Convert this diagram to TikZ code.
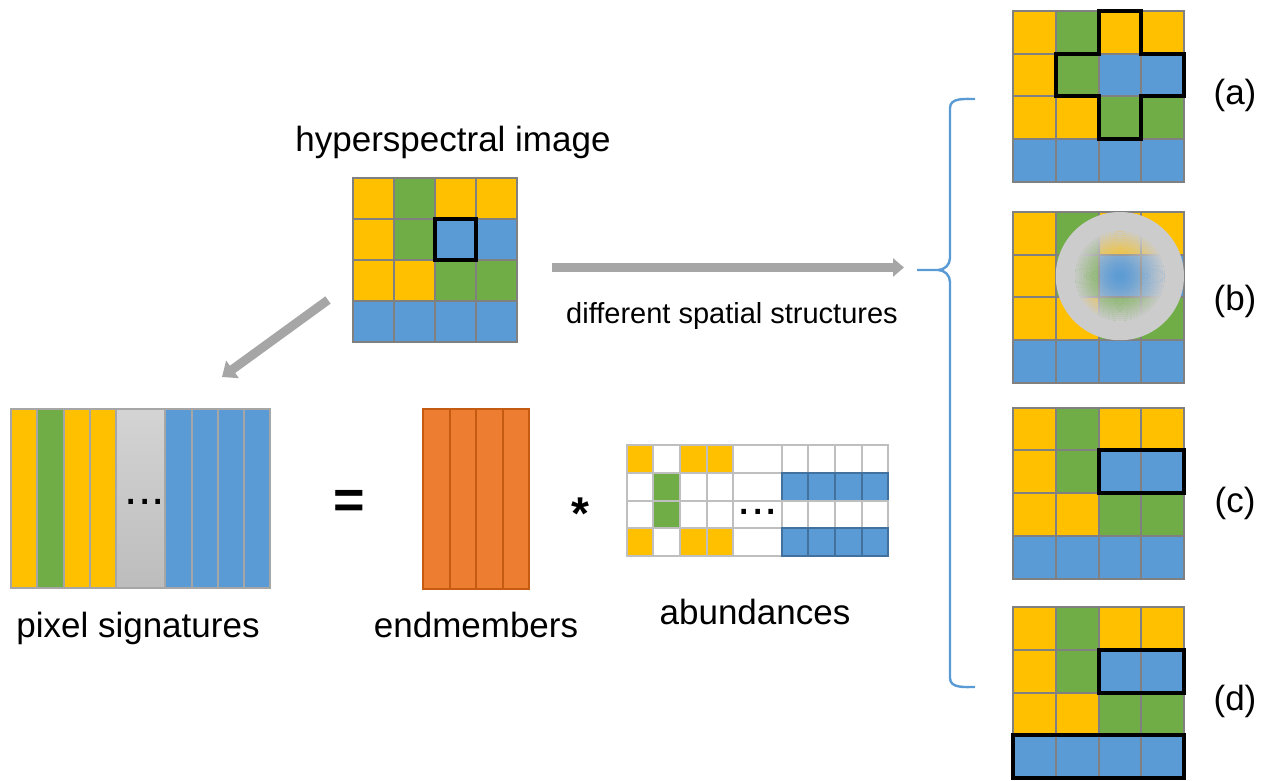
\documentclass[tikz,border=0pt]{standalone}
\usepackage{fontspec}
\setmainfont{Liberation Sans}
\usepackage{tikz}
\usetikzlibrary{arrows.meta}
\definecolor{hy}{HTML}{FFC000}
\definecolor{hg}{HTML}{70AD47}
\definecolor{hb}{HTML}{5B9BD5}
\definecolor{hbdark}{HTML}{41719C}
\definecolor{ho}{HTML}{ED7D31}
\definecolor{hodark}{HTML}{C55A11}

\newcommand{\pixgrid}{%
  \foreach \c [count=\i from 0] in {hy,hg,hy,hy,hy,hg,hb,hb,hy,hy,hg,hg,hb,hb,hb,hb}{%
    \pgfmathtruncatemacro\cx{mod(\i,4)}%
    \pgfmathtruncatemacro\cy{int(\i/4)}%
    \filldraw[fill=\c, draw=gray, line width=1pt] (\cx,\cy) rectangle +(1,1);
  }}

\begin{document}
\begin{tikzpicture}[x=0.5pt, y=-0.5pt,
  lbl/.style={font=\fontsize{17.5}{21}\selectfont, inner sep=0pt},
  small lbl/.style={font=\fontsize{14.5}{18}\selectfont, inner sep=0pt},
  thick box/.style={draw=black, line width=2pt},
  sigstripe/.style={draw=gray!70, line width=1pt},
  ayel/.style={fill=hy, draw=gray!50, line width=1pt},
  agrn/.style={fill=hg, draw=gray!50, line width=1pt},
  awht/.style={fill=white, draw=gray!50, line width=1pt},
  ablu/.style={fill=hb, draw=hbdark, line width=1pt},
  garrow/.style={-{Triangle[length=5.5pt,width=9pt]}, line width=4.5pt, draw=gray!70},
  brace line/.style={draw=hb, line width=1.2pt}]
\useasboundingbox (0,0) rectangle (1266,781);

\node[lbl, anchor=base] (hsiLabel) at (453,152) {hyperspectral image};
\begin{scope}[shift={(353,178)}, scale=41]
  \pixgrid
  \draw[thick box] (2,1) rectangle (3,2);
\end{scope}

\coordinate (hsiOut) at (552,267.5);
\coordinate (braceIn) at (904,267.5);
\draw[garrow] (hsiOut) -- (braceIn);
\node[small lbl, anchor=base] (spatLabel) at (732,323) {different spatial structures};

\coordinate (hsiDown) at (328,300);
\coordinate (sigUp) at (222,377);
\draw[garrow, -{Triangle[length=6.5pt,width=10.5pt]}] (hsiDown) -- (sigUp);

\foreach \c [count=\k from 0] in {hy,hg,hy,hy}
  \filldraw[sigstripe, fill=\c] ({11+26.3*\k},409) rectangle +(26.3,179);
\shadedraw[top color=gray!34, bottom color=gray!52, draw=gray!70, line width=1pt] (116.2,409) rectangle (165.2,588);
\foreach \k in {0,...,3}
  \filldraw[sigstripe, fill=hb] ({165.2+26.3*\k},409) rectangle +(26.3,179);
\node[font=\fontsize{24}{28}\selectfont, anchor=base, inner sep=0pt] (sigDots) at (145,504) {...};
\node[lbl, anchor=base] (sigLabel) at (138,637) {pixel signatures};

\node[font=\bfseries\fontsize{27}{30}\selectfont, anchor=base, inner sep=0pt] (eqSign) at (349,518) {=};

\foreach \k in {0,...,3}
  \filldraw[fill=ho, draw=hodark, line width=1pt] ({423+26.5*\k},409) rectangle +(26.5,180);
\node[lbl, anchor=base] (endLabel) at (476,637) {endmembers};

\node[font=\bfseries\fontsize{23}{28}\selectfont, anchor=base, inner sep=0pt] (starSign) at (580,530) {*};

\foreach \c [count=\i from 0] in {ayel,awht,ayel,ayel,awht,awht,awht,awht,awht,
    awht,agrn,awht,awht,awht,ablu,ablu,ablu,ablu,
    awht,agrn,awht,awht,awht,awht,awht,awht,awht,
    ayel,awht,ayel,ayel,awht,ablu,ablu,ablu,ablu}{
  \pgfmathtruncatemacro\k{mod(\i,9)}
  \pgfmathtruncatemacro\r{int(\i/9)}
  \pgfmathsetmacro\xl{626.7+26.65*\k+(\k>4)*21.75}
  \pgfmathsetmacro\wd{(\k==4)?48.4:26.65}
  \draw[\c] (\xl,{445+27.75*\r}) rectangle +(\wd,27.75);
}
\node[font=\fontsize{24}{28}\selectfont, anchor=base, inner sep=0pt] (abDots) at (758,514) {...};
\node[lbl, anchor=base] (abLabel) at (755,624) {abundances};

\coordinate (brTop) at (975,99);
\coordinate (brTip) at (917,270);
\coordinate (brBot) at (975,687);
\draw[brace line] (brTop) to[out=180,in=90] (950,108) -- (950,258) to[out=-90,in=0] (938,270) -- (brTip)
  (brTip) -- (938,270) to[out=0,in=90] (950,282) -- (950,678) to[out=-90,in=180] (brBot);

\begin{scope}[shift={(1013,11)}, scale=42.75]
  \pixgrid
  \draw[thick box] (2,0) -- (3,0) -- (3,1) -- (4,1) -- (4,2) -- (3,2) -- (3,3) -- (2,3) -- (2,2) -- (1,2) -- (1,1) -- (2,1) -- cycle;
\end{scope}
\node[lbl] (labA) at (1235,95.5) {(a)};

\begin{scope}[shift={(1013,212)}, scale=42.75]
  \pixgrid
  % blurred window: soft rings inside, solid ring outside
  \foreach \t [evaluate=\t as \op using (\t/24)^1.4] in {1,...,24}
    \draw[gray!40, line width=1pt, opacity=\op] (2.5,1.5) circle ({\t*1.07/24});
  \fill[gray!40, even odd rule] (2.5,1.5) circle (1.5) (2.5,1.5) circle (1.07);
\end{scope}
\node[lbl] (labB) at (1235,301) {(b)};

\begin{scope}[shift={(1013,407.5)}, scale=42.75]
  \pixgrid
  \draw[thick box] (2,1) rectangle (4,2);
\end{scope}
\node[lbl] (labC) at (1235,503) {(c)};

\begin{scope}[shift={(1013,607)}, scale=42.75]
  \pixgrid
  \draw[thick box] (2,1) rectangle (4,2);
  \draw[thick box] (0,3) rectangle (4,4);
\end{scope}
\node[lbl] (labD) at (1235,701) {(d)};
\end{tikzpicture}
\end{document}
